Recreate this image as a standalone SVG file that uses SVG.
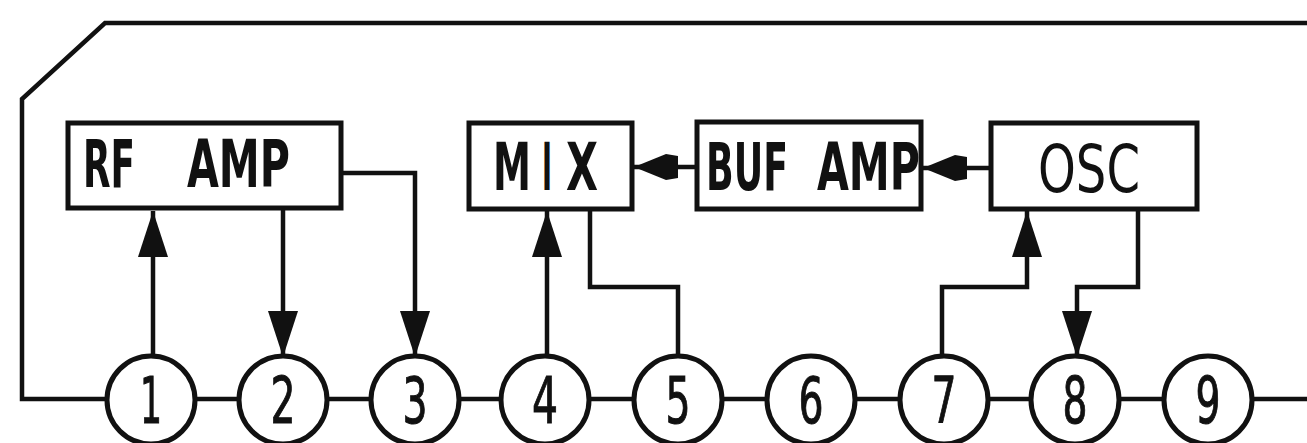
<svg xmlns="http://www.w3.org/2000/svg" width="1307" height="443" viewBox="0 0 1307 443">
<style>
  .ln{fill:none;stroke:#111;stroke-width:4.5;stroke-linejoin:miter}
  .box{fill:#fff;stroke:#111;stroke-width:5}
  .pin{fill:#fff;stroke:#111;stroke-width:5}
  .lbl{font-family:"DejaVu Sans Condensed","DejaVu Sans",sans-serif;font-size:66px;fill:#111}
  .b{font-weight:bold}
  .num{font-family:"DejaVu Sans Condensed","DejaVu Sans",sans-serif;font-size:64px;fill:#111;text-anchor:middle;stroke:#111;stroke-width:1}
</style>
<defs>
  <marker id="av" markerUnits="userSpaceOnUse" markerWidth="46" markerHeight="32" refX="46" refY="16" orient="auto">
    <path d="M0,1 L46,16 L0,31 z" fill="#111"/>
  </marker>
  <marker id="ah" markerUnits="userSpaceOnUse" markerWidth="44" markerHeight="26" refX="44" refY="13" orient="auto">
    <path d="M0,2 L12,0 L44,13 L12,26 L0,24 z" fill="#111"/>
  </marker>
</defs>
<rect width="1307" height="443" fill="#fff"/>
<g id="connectors">
  <path class="ln" d="M1307,23 H105 L22,99 V399 H1307"/>
  <path class="ln" d="M153,355 V211" marker-end="url(#av)"/>
  <path class="ln" d="M283,208 V357" marker-end="url(#av)"/>
  <path class="ln" d="M342,173 H415 V357" marker-end="url(#av)"/>
  <path class="ln" d="M547,355 V211" marker-end="url(#av)"/>
  <path class="ln" d="M590,209 V287 H678 V356"/>
  <path class="ln" d="M697,167 H634" marker-end="url(#ah)"/>
  <path class="ln" d="M991,168 H923" marker-end="url(#ah)"/>
  <path class="ln" d="M942,356 V287 H1027 V211" marker-end="url(#av)"/>
  <path class="ln" d="M1138,209 V287 H1077 V357" marker-end="url(#av)"/>
</g>
<g id="rfamp">
  <rect class="box" x="68" y="123" width="273" height="85"/>
  <text class="lbl b" y="187"><tspan x="83" textLength="52" lengthAdjust="spacingAndGlyphs">RF</tspan><tspan x="187" textLength="103" lengthAdjust="spacingAndGlyphs">AMP</tspan></text>
</g>
<g id="mix">
  <rect class="box" x="469" y="123" width="163" height="86"/>
  <text class="lbl b" y="190"><tspan x="493" textLength="38" lengthAdjust="spacingAndGlyphs">M</tspan><tspan x="542" textLength="10" lengthAdjust="spacingAndGlyphs">I</tspan><tspan x="566" textLength="32" lengthAdjust="spacingAndGlyphs">X</tspan></text>
</g>
<g id="bufamp">
  <rect class="box" x="697" y="122" width="224" height="87"/>
  <text class="lbl b" y="190"><tspan x="706" textLength="82" lengthAdjust="spacingAndGlyphs">BUF</tspan><tspan x="817" textLength="103" lengthAdjust="spacingAndGlyphs">AMP</tspan></text>
</g>
<g id="osc">
  <rect class="box" x="991" y="123" width="206" height="86"/>
  <text class="lbl" x="1038" y="192" textLength="102" lengthAdjust="spacingAndGlyphs">OSC</text>
</g>
<g id="pin1"><circle class="pin" cx="151" cy="400" r="44"/><text class="num" x="151" y="423" textLength="22" lengthAdjust="spacingAndGlyphs">1</text></g>
<g id="pin2"><circle class="pin" cx="283" cy="400" r="44"/><text class="num" x="283" y="423" textLength="25" lengthAdjust="spacingAndGlyphs">2</text></g>
<g id="pin3"><circle class="pin" cx="415" cy="400" r="44"/><text class="num" x="415" y="423" textLength="25" lengthAdjust="spacingAndGlyphs">3</text></g>
<g id="pin4"><circle class="pin" cx="545" cy="400" r="44"/><text class="num" x="545" y="423" textLength="26" lengthAdjust="spacingAndGlyphs">4</text></g>
<g id="pin5"><circle class="pin" cx="678" cy="400" r="44"/><text class="num" x="678" y="423" textLength="25" lengthAdjust="spacingAndGlyphs">5</text></g>
<g id="pin6"><circle class="pin" cx="811" cy="400" r="44"/><text class="num" x="811" y="423" textLength="25" lengthAdjust="spacingAndGlyphs">6</text></g>
<g id="pin7"><circle class="pin" cx="944" cy="400" r="44"/><text class="num" x="944" y="423" textLength="25" lengthAdjust="spacingAndGlyphs">7</text></g>
<g id="pin8"><circle class="pin" cx="1075" cy="400" r="44"/><text class="num" x="1075" y="423" textLength="25" lengthAdjust="spacingAndGlyphs">8</text></g>
<g id="pin9"><circle class="pin" cx="1208" cy="400" r="44"/><text class="num" x="1208" y="423" textLength="25" lengthAdjust="spacingAndGlyphs">9</text></g>
</svg>
